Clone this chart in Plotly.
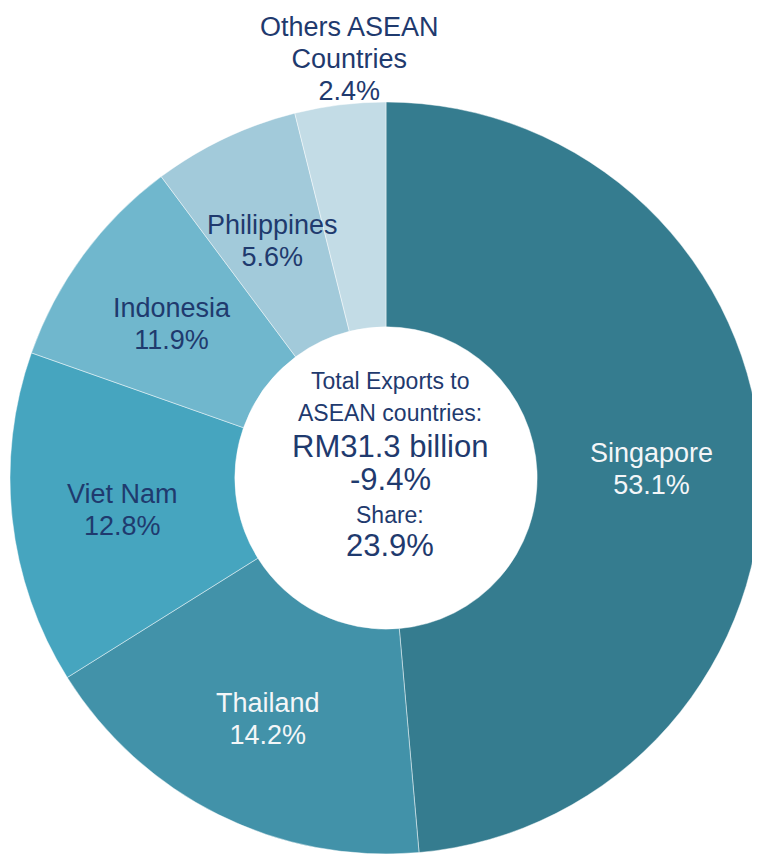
import math
import plotly.graph_objects as go

# Data
countries = ["Singapore", "Thailand", "Viet Nam", "Indonesia", "Philippines", "Others ASEAN<br>Countries"]
share_labels = ["53.1%", "14.2%", "12.8%", "11.9%", "5.6%", "2.4%"]      # printed percentages
slice_sizes = [48.6, 17.5, 14.3, 9.4, 6.3, 3.9]                         # arc sizes as drawn
colors = ["#357C8F", "#4292A9", "#46A5BF", "#70B7CD", "#A2CADA", "#C3DCE6"]
text_colors = ["#F4F6F8", "#F4F6F8", "#1F3A6E", "#1F3A6E", "#1F3A6E", "#1F3A6E"]
text_fonts = ["Liberation Sans", "Liberation Sans Narrow, Arial Narrow, Liberation Sans",
              "Liberation Sans", "Liberation Sans", "Liberation Sans", "Liberation Sans"]
outside_flags = [False, False, False, False, False, True]

center_lines = ["Total Exports to", "ASEAN countries:", "RM31.3 billion", "-9.4%", "Share:", "23.9%"]
center_sizes = [23, 23, 31, 31, 23, 31]
center_ypx = [373, 405, 438, 471, 507, 537]

# Layout geometry (pixels, figure coordinates)
W, H = 760, 856
CX, CY, R = 378, 470, 376
HOLE = 0.402
NAVY = "#1F3A6E"
LABEL_SIZE = 27      # glyph size of slice labels
LINE_BASE = 24.5     # base size that sets the label line spacing

fig = go.Figure(go.Pie(
    labels=[c.replace("<br>", " ") for c in countries],
    values=slice_sizes,
    text=share_labels,
    textinfo="none",
    marker=dict(colors=colors, line=dict(color="rgba(255,255,255,0.45)", width=1)),
    hole=HOLE,
    sort=False,
    direction="clockwise",
    rotation=0,
    domain=dict(x=[(CX - R) / W, (CX + R) / W], y=[(H - CY - R) / H, (H - CY + R) / H]),
    hoverinfo="label+text",
))

# Slice labels placed at the middle of each slice's arc (angles derived from the data)
total = sum(slice_sizes)
cum = 0.0
r_mid = R * (1 + HOLE) / 2 + 2
for name, pct, size, col, fam, outside in zip(countries, share_labels, slice_sizes,
                                              text_colors, text_fonts, outside_flags):
    theta = 2 * math.pi * (cum + size / 2) / total
    cum += size
    if outside:
        x_px = CX + R * math.sin(theta) + 9
        y_px = CY - R + 6
        yanchor = "bottom"
    else:
        x_px = CX + r_mid * math.sin(theta)
        y_px = CY - r_mid * math.cos(theta) + 3
        yanchor = "middle"
    lines = f"{name}<br>{pct}".split("<br>")
    txt = "<br>".join(f"<span style='font-size:{LABEL_SIZE}px'>{ln}</span>" for ln in lines)
    fig.add_annotation(
        x=x_px / W, y=1 - y_px / H, xref="paper", yref="paper",
        text=txt, showarrow=False,
        xanchor="center", yanchor=yanchor, align="center",
        font=dict(size=LINE_BASE, color=col, family=fam),
    )

for line, size, ypx in zip(center_lines, center_sizes, center_ypx):
    fig.add_annotation(
        x=(CX + 4) / W, y=1 - ypx / H, xref="paper", yref="paper",
        text=line, showarrow=False, xanchor="center", yanchor="middle",
        font=dict(size=size, color=NAVY, family="Liberation Sans, Arial, sans-serif"),
    )

fig.update_layout(
    width=W, height=H,
    margin=dict(l=0, r=0, t=0, b=0),
    paper_bgcolor="white",
    plot_bgcolor="white",
    showlegend=False,
    font=dict(family="Liberation Sans, Arial, sans-serif", color=NAVY),
)

fig.write_html("out.html")
